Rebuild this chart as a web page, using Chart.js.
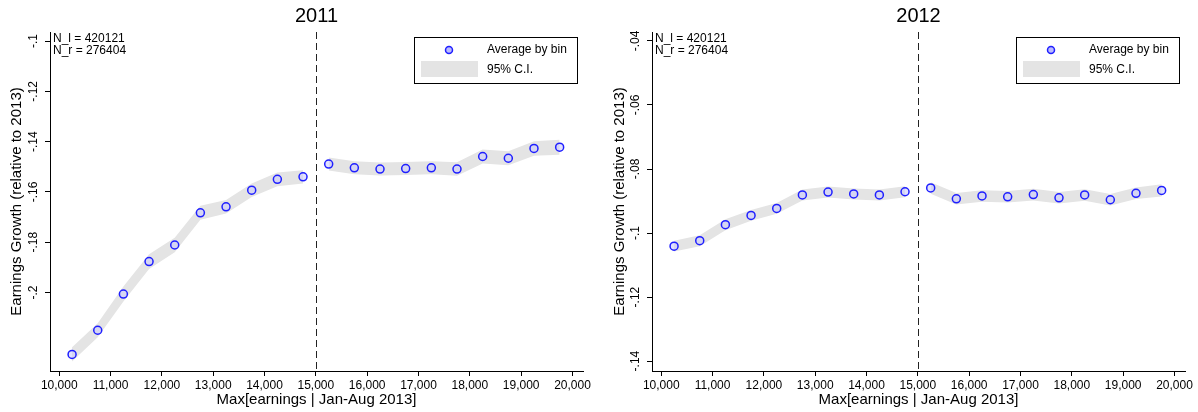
<!DOCTYPE html>
<html><head><meta charset="utf-8">
<script src="https://cdn.jsdelivr.net/npm/chart.js@4/dist/chart.umd.min.js"></script>
<style>
html,body{margin:0;padding:0;background:#fff;}
#wrap{position:relative;width:1198px;height:412px;overflow:hidden;}
.p{position:absolute;top:0;width:599px;height:412px;}
</style></head><body>
<div id="wrap">
<div class="p" style="left:0"><canvas id="c1" width="599" height="412"></canvas></div>
<div class="p" style="left:599px"><canvas id="c2" width="599" height="412"></canvas></div>
</div>
<script>
// ---- data ----
const bins = [10250,10750,11250,11750,12250,12750,13250,13750,14250,14750,15250,15750,16250,16750,17250,17750,18250,18750,19250,19750];
const xTicks = [10000,11000,12000,13000,14000,15000,16000,17000,18000,19000,20000];
const cutoff = 15000;

const mean2011 = [-0.2246,-0.2150,-0.2006,-0.1877,-0.1811,-0.1683,-0.1659,-0.1593,-0.1550,-0.1540,-0.1489,-0.1504,-0.1509,-0.1507,-0.1504,-0.1509,-0.1459,-0.1466,-0.1427,-0.1422];
const lo2011 = [-0.2274,-0.2178,-0.2036,-0.1906,-0.1840,-0.1711,-0.1686,-0.1620,-0.1577,-0.1566,-0.1515,-0.1530,-0.1535,-0.1533,-0.1530,-0.1536,-0.1487,-0.1494,-0.1456,-0.1452];
const hi2011 = [-0.2218,-0.2122,-0.1976,-0.1848,-0.1782,-0.1655,-0.1632,-0.1566,-0.1523,-0.1514,-0.1463,-0.1478,-0.1483,-0.1481,-0.1478,-0.1482,-0.1431,-0.1438,-0.1398,-0.1392];
const yTicks2011 = [-0.1,-0.12,-0.14,-0.16,-0.18,-0.2];

const mean2012 = [-0.1041,-0.1024,-0.0974,-0.0945,-0.0923,-0.0881,-0.0872,-0.0878,-0.0881,-0.0871,-0.0859,-0.0893,-0.0884,-0.0887,-0.0880,-0.0890,-0.0881,-0.0896,-0.0876,-0.0867];
const lo2012 = [-0.1058,-0.1041,-0.0991,-0.0962,-0.0940,-0.0898,-0.0889,-0.0895,-0.0898,-0.0888,-0.0877,-0.0911,-0.0902,-0.0905,-0.0898,-0.0908,-0.0899,-0.0914,-0.0894,-0.0886];
const hi2012 = [-0.1024,-0.1007,-0.0957,-0.0928,-0.0906,-0.0864,-0.0855,-0.0861,-0.0864,-0.0854,-0.0841,-0.0875,-0.0866,-0.0869,-0.0862,-0.0872,-0.0863,-0.0878,-0.0858,-0.0848];
const yTicks2012 = [-0.04,-0.06,-0.08,-0.1,-0.12,-0.14];

const titles = ['2011','2012'];
const nLeft = 420121, nRight = 276404;
const xTitle = 'Max[earnings | Jan-Aug 2013]';
const yTitle = 'Earnings Growth (relative to 2013)';
const legendLabels = ['Average by bin','95% C.I.'];

// ---- rendering ----
const FAM = '"Liberation Sans", Arial, Helvetica, sans-serif';
const fmtX = v => { const s = String(Math.round(v)); return s.replace(/\B(?=(\d{3})+(?!\d))/g, ','); };
const fmtY = v => String(+v.toFixed(4)).replace('0.', '.');
const pts = (xs, ys) => xs.map((x,i)=>({x:x, y:ys[i]}));

const annot = {
  id: 'annot',
  afterDatasetsDraw(chart) {
    const ctx = chart.ctx, a = chart.chartArea, xs = chart.scales.x;
    const px = Math.round(xs.getPixelForValue(cutoff)) + 0.5;
    ctx.save();
    ctx.strokeStyle = '#222'; ctx.lineWidth = 1; ctx.setLineDash([7,4]);
    ctx.beginPath(); ctx.moveTo(px, a.top); ctx.lineTo(px, a.bottom); ctx.stroke();
    ctx.setLineDash([]);
    ctx.fillStyle = '#000'; ctx.font = '12px ' + FAM; ctx.textBaseline = 'middle'; ctx.textAlign = 'left';
    ctx.fillText('N_l = ' + nLeft, a.left + 3, a.top + 7);
    ctx.fillText('N_r = ' + nRight, a.left + 3, a.top + 19);
    // legend box
    const bw = 163, bh = 46, bx = Math.round(a.right - 6 - bw), by = Math.round(a.top + 5);
    ctx.fillStyle = '#fff'; ctx.fillRect(bx, by, bw, bh);
    ctx.strokeStyle = '#000'; ctx.lineWidth = 1; ctx.strokeRect(bx + 0.5, by + 0.5, bw, bh);
    ctx.beginPath(); ctx.arc(bx + 35, by + 13, 3.5, 0, Math.PI*2);
    ctx.fillStyle = 'rgba(170,170,255,0.8)'; ctx.fill();
    ctx.strokeStyle = '#1f1fff'; ctx.lineWidth = 1.5; ctx.stroke();
    ctx.fillStyle = '#e4e4e4'; ctx.fillRect(bx + 7, by + 24, 57, 16);
    ctx.fillStyle = '#000';
    ctx.fillText(legendLabels[0], bx + 73, by + 13);
    ctx.fillText(legendLabels[1], bx + 73, by + 33);
    ctx.restore();
  }
};

function makeChart(id, cfg) {
  const left = bins.filter(b => b < cutoff).length;
  const bandL = bins.slice(0, left), bandR = bins.slice(left);
  return new Chart(document.getElementById(id), {
    type: 'line',
    data: {
      datasets: [
        { label: legendLabels[0], data: pts(bins, cfg.mean), showLine: false, pointRadius: 4, pointHoverRadius: 4,
          pointBorderWidth: 1.5, pointBorderColor: '#1f1fff', pointBackgroundColor: 'rgba(200,200,255,0.55)' },
        { label: 'lo_l', data: pts(bandL, cfg.lo.slice(0, left)), borderWidth: 0, pointRadius: 0, fill: false, tension: 0 },
        { label: 'hi_l', data: pts(bandL, cfg.hi.slice(0, left)), borderWidth: 0, pointRadius: 0, fill: '-1', backgroundColor: '#e4e4e4', tension: 0 },
        { label: 'lo_r', data: pts(bandR, cfg.lo.slice(left)), borderWidth: 0, pointRadius: 0, fill: false, tension: 0 },
        { label: 'hi_r', data: pts(bandR, cfg.hi.slice(left)), borderWidth: 0, pointRadius: 0, fill: '-1', backgroundColor: '#e4e4e4', tension: 0 }
      ]
    },
    options: {
      responsive: false, animation: false, devicePixelRatio: 1,
      layout: { padding: { left: 0, right: cfg.padR, top: 0, bottom: 0 } },
      plugins: {
        legend: { display: false }, tooltip: { enabled: false },
        title: { display: true, text: cfg.title, fullSize: false, color: '#000',
                 font: { size: 20, family: FAM, weight: 'normal' }, padding: { top: 4, bottom: 4 } }
      },
      scales: {
        x: {
          type: 'linear', min: 9820, max: 20205,
          afterBuildTicks: s => { s.ticks = xTicks.map(v => ({ value: v })); },
          afterFit: s => { s.height = 41; },
          border: { display: true, color: '#000', width: 1 },
          grid: { drawOnChartArea: false, drawTicks: true, tickLength: 5, color: '#000' },
          ticks: { color: '#000', font: { size: 12, family: FAM }, maxRotation: 0, minRotation: 0, padding: 2, callback: v => fmtX(v) },
          title: { display: true, text: xTitle, color: '#000', font: { size: 15, family: FAM }, padding: { top: 0, bottom: 3 } }
        },
        y: {
          type: 'linear', min: cfg.yMin, max: cfg.yMax,
          afterBuildTicks: s => { s.ticks = cfg.yTicks.map(v => ({ value: v })); },
          afterFit: s => { s.width = cfg.yW; },
          border: { display: true, color: '#000', width: 1 },
          grid: { drawOnChartArea: false, drawTicks: true, tickLength: 5, color: '#000' },
          ticks: { color: '#000', font: { size: 12, family: FAM }, minRotation: 90, maxRotation: 90, crossAlign: 'center', padding: 1, callback: v => fmtY(v) },
          title: { display: true, text: yTitle, color: '#000', font: { size: 15, family: FAM }, padding: { top: cfg.yTitlePad, bottom: 0 } }
        }
      }
    },
    plugins: [annot]
  });
}

makeChart('c1', { title: titles[0], mean: mean2011, lo: lo2011, hi: hi2011, yTicks: yTicks2011,
  yMin: -0.2312, yMax: -0.0964, yW: 50, padR: 16, yTitlePad: 8 });
makeChart('c2', { title: titles[1], mean: mean2012, lo: lo2012, hi: hi2012, yTicks: yTicks2012,
  yMin: -0.1431, yMax: -0.0372, yW: 53, padR: 13, yTitlePad: 12 });
</script>
</body></html>
